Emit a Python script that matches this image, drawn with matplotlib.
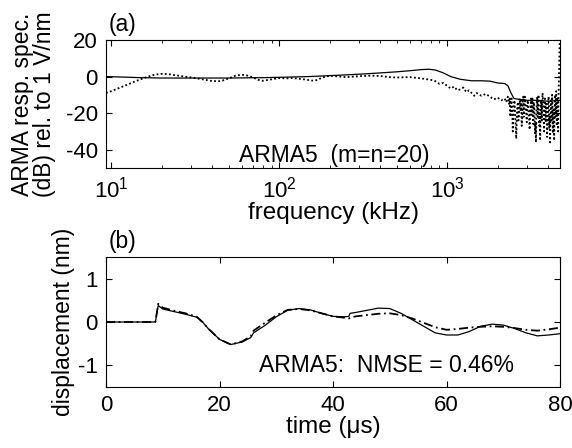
import matplotlib
matplotlib.use('Agg')
import matplotlib.pyplot as plt
from matplotlib.ticker import LogLocator, NullFormatter

plt.rcParams['font.family'] = ['Liberation Sans', 'DejaVu Sans']
plt.rcParams['font.size'] = 16
plt.rcParams['axes.unicode_minus'] = False

# (a) response spectrum, frequency in kHz, level in dB
model_f = [9.3, 12, 15, 20, 30, 50, 80, 100, 150, 200, 300, 400, 500, 600, 700,
           780, 850, 950, 1050, 1200, 1400, 1600, 1800, 2000, 2200, 2300, 2400,
           2500, 2700, 3000, 3500, 4000, 4700]
model_db = [0, -0.3, -0.6, -0.8, -0.8, -0.8, -0.6, -0.4, 0, 0.5, 1.3, 2, 2.6, 3.2, 3.8,
            4, 3.6, 2, 0, -1.5, -2.3, -2.3, -2.5, -3.5, -3.8, -5, -9,
            -12, -12.5, -13, -13, -13.5, -13]

meas_f = [9.3, 10, 12, 14, 16, 18, 20, 22, 25, 30, 35, 40, 45, 50, 55, 60, 65, 70,
          75, 80, 90, 100, 110, 120, 140, 160, 170, 180, 200, 250, 300, 350, 400,
          450, 500, 600, 700, 800, 850, 900, 950, 1000, 1050, 1100, 1150, 1200,
          1250, 1300, 1350, 1400, 1450, 1500, 1600, 1700, 1800, 1900, 2000, 2100,
          2200, 2250,
          2300, 2320, 2340, 2360, 2380, 2400, 2420, 2440, 2460, 2480,
          2500, 2520, 2540, 2560, 2580, 2600, 2620, 2640, 2660, 2680,
          2700, 2720, 2740, 2760, 2780, 2800, 2820, 2840, 2860, 2880,
          2900, 2920, 2940, 2960, 2980, 3000, 3020, 3040, 3060, 3080,
          3100, 3120, 3140, 3160, 3180, 3200, 3220, 3240, 3260, 3280,
          3300, 3320, 3340, 3360, 3380, 3400, 3420, 3440, 3460, 3480,
          3500, 3520, 3540, 3560, 3580, 3600, 3620, 3640, 3660, 3680,
          3700, 3720, 3740, 3760, 3780, 3800, 3820, 3840, 3860, 3880,
          3900, 3920, 3940, 3960, 3980, 4000, 4020, 4040, 4060, 4080,
          4100, 4120, 4140, 4160, 4180, 4200, 4220, 4240, 4260, 4280,
          4300, 4320, 4340, 4360, 4380, 4400, 4420, 4440, 4460, 4480,
          4500, 4520, 4540, 4560, 4580, 4600, 4620, 4640, 4660, 4680]
meas_db = [-9, -8, -5, -2.5, -0.5, 1, 1.5, 1.3, 0.5, -0.5, -1.5, -2.5, -2.5, -1, 0.5,
           1, 0.5, -0.5, -1.8, -2.3, -1.5, -0.8, -1, -0.8, -1.5, -2.3, -1.8, -0.5,
           0.5, -0.3, 0.2, 0.5, 0.3, -0.3, -0.5, -0.3, -1, -1.8, -2.5, -4, -3.5,
           -5, -6.5, -5.5, -7.5, -7, -6, -8.5, -7.5, -9, -10.5, -9, -10.5, -9.5,
           -11, -12.5, -11.5, -13, -12, -14,
           -11, -13, -15, -12, -22, -14, -12, -18, -30, -20,
           -15, -13, -20, -26, -34, -21, -16, -14, -24, -18,
           -12, -15, -19, -13, -27, -20, -14, -11, -22, -17,
           -11, -14, -18, -21, -25, -16, -13, -17, -20, -24,
           -29, -19, -15, -12, -21, -16, -12, -19, -26, -14,
           -17, -23, -31, -25, -36, -20, -14, -11, -22, -15,
           -10, -18, -27, -20, -35, -22, -13, -17, -24, -15,
           -9, -13, -19, -24, -30, -18, -12, -15, -25, -19,
           -15, -22, -33, -26, -20, -14, -11, -17, -28, -22,
           -36, -25, -16, -13, -24, -17, -10, -16, -31, -23,
           -18, -26, -35, -21, -13, -10, -22, -16, -8, -15,
           -27, -19, -12, -24, -30, -14, -5, 2, 10, 19]

# (b) displacement vs time
t_us = [0, 8.7, 9.2, 10, 12, 14, 16, 17, 18, 20, 22, 24, 25.5, 26, 28, 30, 32, 34,
        36, 38, 40, 42, 42.8, 43, 44, 46, 48, 50, 52, 54, 56, 58, 60, 62, 64, 66,
        68, 70, 72, 74, 76, 78, 80]
disp_meas = [0, 0, 0.38, 0.3, 0.24, 0.18, 0.11, 0.0, -0.15, -0.4, -0.52, -0.46, -0.36,
             -0.25, -0.08, 0.12, 0.27, 0.31, 0.28, 0.2, 0.13, 0.12, 0.13, 0.2, 0.22,
             0.27, 0.32, 0.31, 0.2, 0.05, -0.1, -0.25, -0.3, -0.3, -0.22, -0.1,
             -0.05, -0.07, -0.15, -0.25, -0.32, -0.3, -0.27]
disp_arma = [0, 0, 0.42, 0.33, 0.26, 0.2, 0.12, 0.0, -0.15, -0.4, -0.52, -0.45, -0.33,
             -0.2, -0.02, 0.15, 0.28, 0.3, 0.27, 0.2, 0.13, 0.1, 0.08, 0.1, 0.13,
             0.16, 0.19, 0.2, 0.16, 0.08, -0.02, -0.12, -0.18, -0.16, -0.13, -0.11,
             -0.1, -0.11, -0.14, -0.18, -0.2, -0.17, -0.13]

fig = plt.figure(figsize=(5.72, 4.48), dpi=100)
ax1 = fig.add_axes([106 / 572, 1 - 168 / 448, 454 / 572, 128 / 448])
ax2 = fig.add_axes([106 / 572, 1 - 387 / 448, 454 / 572, 130 / 448])

ax1.plot(model_f, model_db, color='black', lw=0.9)
ax1.plot(meas_f, meas_db, color='black', lw=1.3, ls=(0, (1, 1.3)))
ax1.set_xscale('log')
ax1.set_xlim(9.3, 4700)
ax1.set_ylim(-50, 20)
ax1.set_yticks([20, 0, -20, -40])
ax1.xaxis.set_minor_locator(LogLocator(base=10, subs=range(2, 10)))
ax1.xaxis.set_minor_formatter(NullFormatter())
ax1.set_xlabel('frequency (kHz)', fontsize=17.5, labelpad=0)
ax1.set_ylabel('ARMA resp. spec.\n(dB) rel. to 1 V/nm', fontsize=16.5,
               linespacing=0.95, labelpad=7)
ax1.text(58, -43, 'ARMA5  (m=n=20)', va='center', ha='left', fontsize=16.5)
ax1.text(0.005, 1.03, '(a)', transform=ax1.transAxes, ha='left', va='bottom',
         fontsize=16.5)

ax2.plot(t_us, disp_meas, color='black', lw=0.9)
ax2.plot(t_us, disp_arma, color='black', lw=1.3, ls=(0, (5, 2, 1, 2)))
ax2.set_xlim(0, 80)
ax2.set_ylim(-1.5, 1.5)
ax2.set_xticks([0, 20, 40, 60, 80])
ax2.set_yticks([-1, 0, 1])
ax2.set_xlabel('time (\u03bcs)', fontsize=17.5, labelpad=0)
ax2.set_ylabel('displacement (nm)', fontsize=16.5, labelpad=2)
ax2.text(27, -1.0, 'ARMA5:  NMSE = 0.46%', va='center', ha='left', fontsize=16.5)
ax2.text(0.005, 1.03, '(b)', transform=ax2.transAxes, ha='left', va='bottom',
         fontsize=16.5)

for ax in (ax1, ax2):
    ax.tick_params(which='both', direction='in', top=True, right=True)
    ax.tick_params(which='major', length=4, pad=6)
    ax.tick_params(which='minor', length=2)
    for s in ax.spines.values():
        s.set_linewidth(0.8)

fig.savefig('out.png', dpi=100)
